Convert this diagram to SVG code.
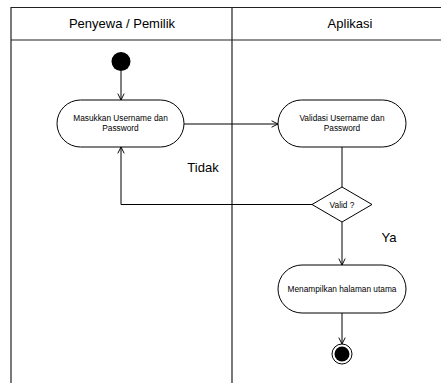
<svg xmlns="http://www.w3.org/2000/svg" width="441" height="383" viewBox="0 0 441 383">
<style>
.lane{fill:none;stroke:#222;stroke-width:1.2}
.act{fill:#fff;stroke:#000;stroke-width:1}
.t{font-family:"Liberation Sans",Arial,sans-serif;fill:#000;text-anchor:middle}
.s{font-size:8.3px}
.h{font-size:13px}
.c{fill:none;stroke:#000;stroke-width:1}
</style>
<defs>
<marker id="ar" viewBox="0 0 10 10" refX="9" refY="5" markerWidth="8" markerHeight="8" markerUnits="userSpaceOnUse" orient="auto">
<path d="M1,1 L9,5 L1,9" fill="none" stroke="#000" stroke-width="1.2"/>
</marker>
</defs>
<g id="lanes">
<path class="lane" d="M11,383 V7.5 H441 M11,40 H441 M232,7.5 V383"/>
<text class="t h" x="122" y="28">Penyewa / Pemilik</text>
<text class="t h" x="350" y="28">Aplikasi</text>
</g>
<g id="connectors">
<path class="c" d="M121,71 V100" marker-end="url(#ar)"/>
<path class="c" d="M184,124 H278" marker-end="url(#ar)"/>
<path class="c" d="M342,147 V187"/>
<path class="c" d="M312,204.5 H121 V147" marker-end="url(#ar)"/>
<path class="c" d="M342,222 V265" marker-end="url(#ar)"/>
<path class="c" d="M342,313 V344" marker-end="url(#ar)"/>
<text class="t h" x="203" y="172">Tidak</text>
<text class="t h" x="389" y="242">Ya</text>
</g>
<g id="start">
<circle cx="121" cy="61.5" r="9.5" fill="#000"/>
</g>
<g id="act1">
<rect class="act" x="57" y="100" width="127" height="47" rx="23.5"/>
<text class="t s" x="120.5" y="121">Masukkan Username dan</text>
<text class="t s" x="120.5" y="131">Password</text>
</g>
<g id="act2">
<rect class="act" x="278" y="100" width="128" height="47" rx="23.5"/>
<text class="t s" x="342" y="121">Validasi Username dan</text>
<text class="t s" x="342" y="131">Password</text>
</g>
<g id="decision">
<path class="act" d="M342,187 L372,204.5 L342,222 L312,204.5 Z"/>
<text class="t s" x="342" y="207.5">Valid ?</text>
</g>
<g id="act3">
<rect class="act" x="278" y="265" width="128" height="48" rx="24"/>
<text class="t s" x="342" y="292">Menampilkan halaman utama</text>
</g>
<g id="end">
<circle cx="342" cy="354" r="10" fill="#fff" stroke="#000" stroke-width="1"/>
<circle cx="342" cy="354" r="7.5" fill="#000"/>
</g>
</svg>
